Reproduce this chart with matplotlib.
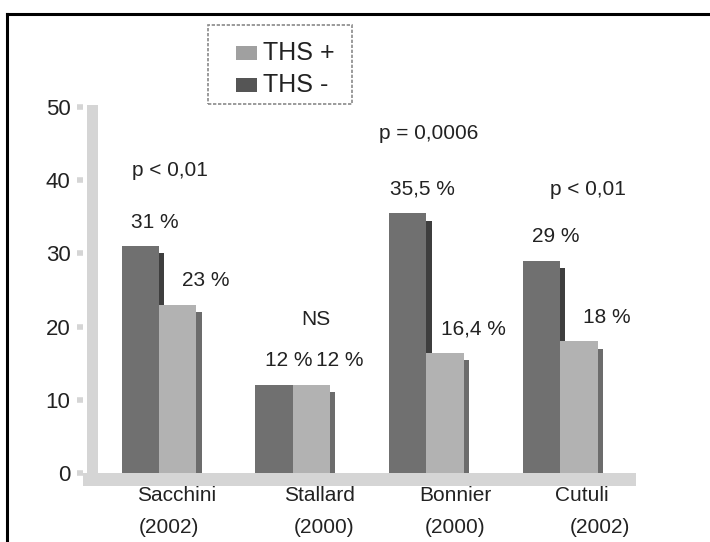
import matplotlib
matplotlib.use("Agg")
import matplotlib.pyplot as plt
from matplotlib.patches import Rectangle
from matplotlib.lines import Line2D
import numpy as np

plt.rcParams['font.family'] = ['Liberation Sans', 'DejaVu Sans']

# Data
studies = ["Sacchini", "Stallard", "Bonnier", "Cutuli"]
years = ["(2002)", "(2000)", "(2000)", "(2002)"]
ths_minus = [31, 12, 35.5, 29]
ths_plus = [23, 12, 16.4, 18]
minus_labels = ["31 %", "12 %", "35,5 %", "29 %"]
plus_labels = ["23 %", "12 %", "16,4 %", "18 %"]
p_labels = ["p < 0,01", "NS", "p = 0,0006", "p < 0,01"]
y_ticks = [0, 10, 20, 30, 40, 50]

# Style
W, H = 710, 542
face_minus = "#707070"
face_plus = "#b2b2b2"
side_minus = "#3e3e3e"
side_plus = "#6c6c6c"
wall_col = "#d5d5d5"
leg_plus = "#a0a0a0"
leg_minus = "#555555"
txt_col = "#222222"
bar_w = 0.28
side_w = 0.04
side_drop = 1.0
fs = 15

fig = plt.figure(figsize=(W / 100, H / 100), dpi=100)
ax = fig.add_axes([83 / W, 56 / H, 553 / W, 381 / H])
ax.set_xlim(-0.5684, 3.5677)
ax.set_ylim(-1.8, 50.3)
for s in ax.spines.values():
    s.set_visible(False)

x = np.arange(len(studies))

# floor and back wall
ax.axhspan(-1.8, 0, color=wall_col, zorder=1, lw=0)
ax.add_patch(Rectangle((-0.539, -1.8), 0.083, 52.1, color=wall_col, zorder=1, lw=0))

# side faces for the pseudo-3D look
ax.bar(x + side_w / 2, np.array(ths_minus) - side_drop, width=side_w,
       color=side_minus, zorder=2, lw=0)
ax.bar(x + bar_w + side_w / 2, np.array(ths_plus) - side_drop, width=side_w,
       color=side_plus, zorder=2, lw=0)

# front faces
ax.bar(x - bar_w / 2, ths_minus, width=bar_w, color=face_minus, zorder=3, lw=0)
ax.bar(x + bar_w / 2, ths_plus, width=bar_w, color=face_plus, zorder=3, lw=0)

# value labels
for i in range(len(studies)):
    ax.text(x[i] - 0.03, ths_minus[i] + 3.3, minus_labels[i], ha='center',
            va='center', fontsize=fs, color=txt_col)
    ax.text(x[i] + 0.35, ths_plus[i] + 3.3, plus_labels[i], ha='center',
            va='center', fontsize=fs, color=txt_col)

# significance labels
p_pos = [(0.08, 41.3), (1.17, 20.9), (2.02, 46.4), (3.21, 38.7)]
for lab, (px_, py_) in zip(p_labels, p_pos):
    ax.text(px_, py_, lab, ha='center', va='center', fontsize=fs, color=txt_col)

# axes ticks
ax.set_yticks(y_ticks)
ax.set_yticklabels([str(t) for t in y_ticks], fontsize=16, color=txt_col)
ax.tick_params(axis='y', length=4, width=4, color=wall_col, pad=5)
ax.set_xticks([])

# category labels: study name with its year underneath
name_dx = [0.135, 0.197, 0.214, 0.164]
year_dx = [0.075, 0.234, 0.214, 0.30]
for i in range(len(studies)):
    ax.text(x[i] + name_dx[i], -3.1, studies[i], ha='center', va='center',
            fontsize=fs, color=txt_col, clip_on=False)
    ax.text(x[i] + year_dx[i], -7.5, years[i], ha='center', va='center',
            fontsize=fs, color=txt_col, clip_on=False)

# legend box
def fx(px):
    return px / W

def fy(py):
    return 1 - py / H

frame = Rectangle((fx(208), fy(104)), fx(352) - fx(208), fy(25) - fy(104),
                  transform=fig.transFigure, fill=False, edgecolor='#8a8a8a',
                  linestyle=(0, (2, 1)), lw=1.2)
fig.add_artist(frame)
for yc, col, lab in [(53, leg_plus, "THS +"), (85, leg_minus, "THS -")]:
    fig.add_artist(Rectangle((fx(236), fy(yc + 7)), fx(257) - fx(236),
                             fy(yc - 7) - fy(yc + 7), transform=fig.transFigure,
                             color=col, lw=0))
    fig.text(fx(263), fy(yc), lab, ha='left', va='center', fontsize=18,
             color=txt_col)

# outer frame (top and left edges)
fig.add_artist(Line2D([fx(7), 1.0], [fy(14), fy(14)], transform=fig.transFigure,
                      color='black', lw=2.2))
fig.add_artist(Line2D([fx(7), fx(7)], [fy(14), 0.0], transform=fig.transFigure,
                      color='black', lw=2.2))

fig.savefig("out.png", dpi=100)
